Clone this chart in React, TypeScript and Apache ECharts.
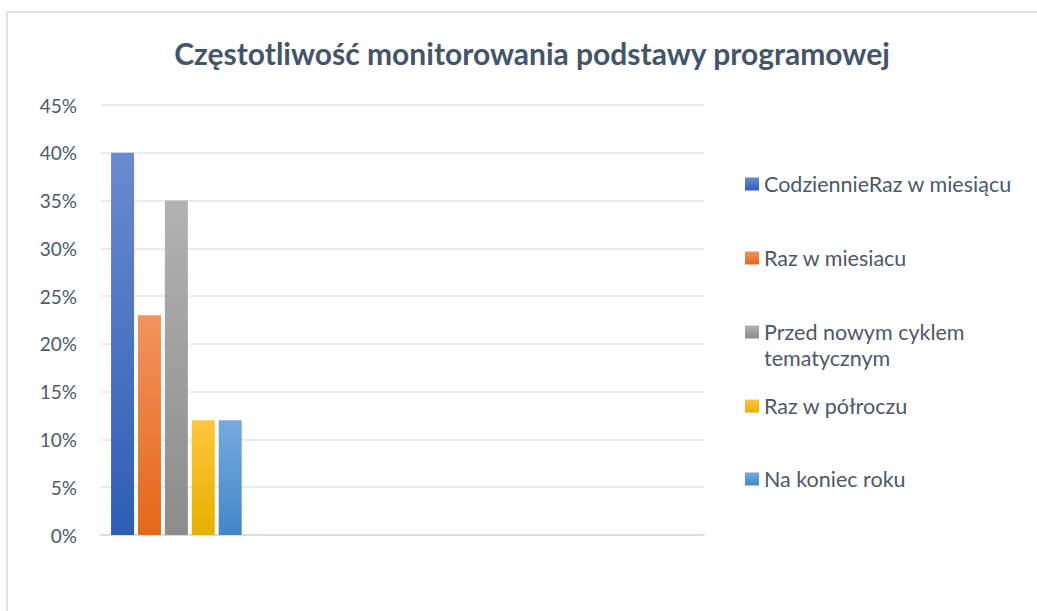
import React, { useEffect, useRef } from "react";
import * as echarts from "echarts";

const title = "Częstotliwość monitorowania podstawy programowej";
const categories = ["1", "2", "3", "4"];
const seriesNames = [
  "CodziennieRaz w miesiącu",
  "Raz w miesiacu",
  "Przed nowym cyklem tematycznym",
  "Raz w półroczu",
  "Na koniec roku",
];
const seriesValues = [0.4, 0.23, 0.35, 0.12, 0.12];
const yTicks = { min: 0, max: 0.45, interval: 0.05 };

const gradients: [string, string][] = [
  ["#6a8bcf", "#2e5db6"],
  ["#f2935c", "#e4681a"],
  ["#b2b2b2", "#8c8c8c"],
  ["#ffc640", "#e5b000"],
  ["#77aade", "#4287c8"],
];

export default function App() {
  const ref = useRef<HTMLDivElement>(null);
  useEffect(() => {
    if (!ref.current) return;
    const chart = echarts.init(ref.current, null, { renderer: "svg" });
    const font = "Lato, 'Open Sans', sans-serif";
    const textColor = "#4c586a";
    const legendFont = 21.5;
    const legendCenters = [184, 258, 332, 406, 479];
    const series = seriesNames.map((name, i) => ({
      name,
      type: "bar",
      barWidth: 23,
      barGap: "17%",
      data: categories.map((_, j) => (j === 0 ? seriesValues[i] : null)),
      itemStyle: {
        color: new echarts.graphic.LinearGradient(0, 0, 0, 1, [
          { offset: 0, color: gradients[i][0] },
          { offset: 1, color: gradients[i][1] },
        ]),
      },
    }));
    const legends = seriesNames.map((name, i) => ({
      data: [name],
      left: 745,
      top: legendCenters[i] - 12,
      padding: 0,
      orient: "vertical",
      icon: "rect",
      itemWidth: 14,
      itemHeight: 13,
      selectedMode: false,
      formatter: (n: string) => (n === "Przed nowym cyklem tematycznym" ? "Przed nowym cyklem" : n),
      textStyle: { fontFamily: font, fontSize: legendFont, color: textColor, lineHeight: 24 },
    }));
    chart.setOption({
      animation: false,
      title: {
        text: title,
        left: 527,
        textAlign: "center",
        top: 33,
        textStyle: { fontFamily: font, fontSize: 30, fontWeight: "bold", color: "#44546a" },
      },
      grid: { left: 101, right: 333, top: 105, bottom: 76 },
      xAxis: {
        type: "category",
        data: categories,
        axisLabel: { show: false },
        axisTick: { show: false },
        axisLine: { lineStyle: { color: "#d9dee5", width: 2 } },
      },
      yAxis: {
        type: "value",
        min: yTicks.min,
        max: yTicks.max,
        interval: yTicks.interval,
        axisLine: { show: false },
        axisTick: { show: false },
        axisLabel: {
          formatter: (v: number) => Math.round(v * 100) + "%",
          fontFamily: font,
          fontSize: 19,
          color: textColor,
          margin: 24,
        },
        splitLine: { lineStyle: { color: "#e1e5ea", width: 1.5 } },
      },
      legend: legends,
      series,
      graphic: [
        {
          type: "rect",
          shape: { x: 7, y: 12, width: 1060, height: 640 },
          style: { fill: "none", stroke: "#dde2e8", lineWidth: 2 },
          silent: true,
        },
        {
          type: "text",
          left: 764,
          top: 347,
          style: {
            text: "tematycznym",
            fontFamily: font,
            fontSize: legendFont,
            fill: textColor,
          },
        },
      ],
    });
    return () => chart.dispose();
  }, []);
  return (
    <div
      ref={ref}
      style={{ position: "fixed", left: 0, top: 0, width: 1037, height: 611, background: "#fff" }}
    />
  );
}
